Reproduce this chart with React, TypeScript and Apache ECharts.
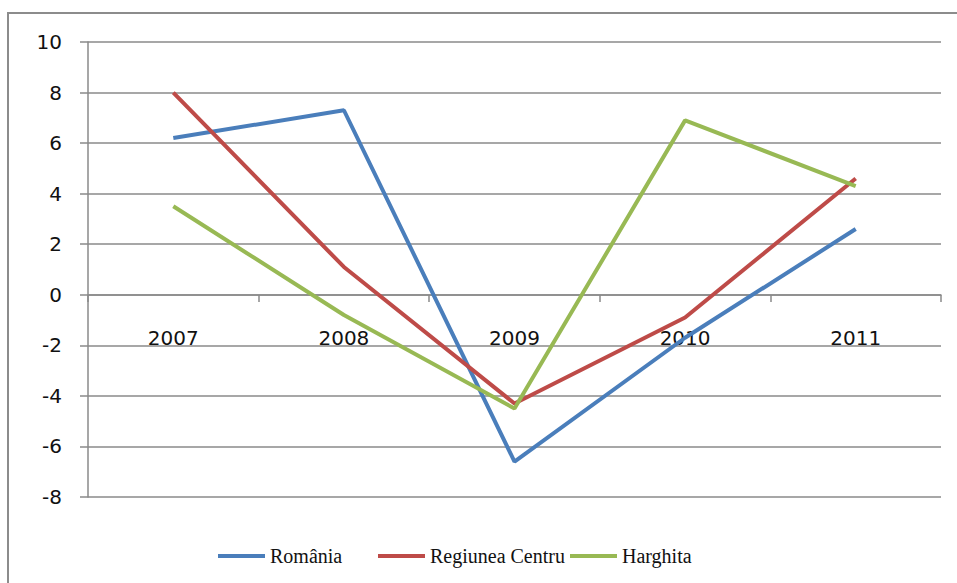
import React, { useEffect, useRef } from "react";
import * as echarts from "echarts";

const categories = ["2007", "2008", "2009", "2010", "2011"];
const romania = [6.2, 7.3, -6.6, -1.7, 2.6];
const regiuneaCentru = [8.0, 1.1, -4.3, -0.9, 4.6];
const harghita = [3.5, -0.8, -4.5, 6.9, 4.3];
const seriesNames = ["România", "Regiunea Centru", "Harghita"];
const colors = ["#4A7EBB", "#BE4B48", "#98B954"];

export default function App() {
  const ref = useRef<HTMLDivElement>(null);
  useEffect(() => {
    document.body.style.margin = "0";
    const chart = echarts.init(ref.current!, null, { renderer: "svg" });
    const gridColor = "#8a8a8a";
    const axisFont = { fontFamily: "DejaVu Sans", fontSize: 20, color: "#111" };
    const legendBase = {
      icon: "rect",
      itemWidth: 47,
      itemHeight: 4,
      top: 541,
      textStyle: { fontFamily: "Liberation Serif", fontSize: 20, color: "#111" },
    };
    const datas = [romania, regiuneaCentru, harghita];
    chart.setOption({
      animation: false,
      backgroundColor: "#fff",
      color: colors,
      graphic: [
        {
          type: "rect",
          shape: { x: 8, y: 13, width: 1000, height: 1000 },
          style: { fill: "none", stroke: "#8c8c8c", lineWidth: 2 },
          silent: true,
        },
      ],
      grid: { left: 88, right: 16, top: 42, bottom: 86 },
      legend: [
        { ...legendBase, left: 213, data: [seriesNames[0]] },
        { ...legendBase, left: 373, data: [seriesNames[1]] },
        { ...legendBase, left: 565, data: [seriesNames[2]] },
      ],
      xAxis: {
        type: "category",
        data: categories,
        boundaryGap: true,
        position: "bottom",
        offset: -202,
        axisLine: { onZero: false, lineStyle: { color: gridColor, width: 1.5 } },
        axisTick: { show: true, length: 7, lineStyle: { color: gridColor, width: 1.5 } },
        axisLabel: { ...axisFont, margin: 33 },
        splitLine: { show: false },
      },
      yAxis: {
        type: "value",
        min: -8,
        max: 10,
        interval: 2,
        axisLine: { show: true, lineStyle: { color: gridColor, width: 1.5 } },
        axisTick: { show: true, length: 8, lineStyle: { color: gridColor, width: 1.5 } },
        axisLabel: { ...axisFont, margin: 26 },
        splitLine: { show: true, lineStyle: { color: gridColor, width: 1.5 } },
      },
      series: seriesNames.map((name, i) => ({
        name,
        type: "line",
        data: datas[i],
        symbol: "none",
        lineStyle: { width: 4, color: colors[i] },
        itemStyle: { color: colors[i] },
      })),
    });
    return () => chart.dispose();
  }, []);
  return <div ref={ref} style={{ width: 957, height: 583 }} />;
}
